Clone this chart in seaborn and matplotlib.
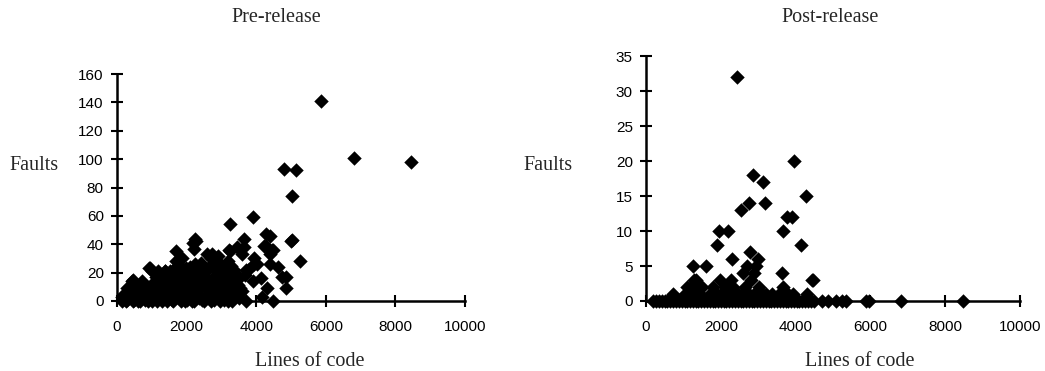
import matplotlib
matplotlib.use("Agg")
import matplotlib.pyplot as plt
import seaborn as sns
import pandas as pd

# ---------------- data ----------------
pre_loc = [5870, 6810, 8460, 4800, 5150, 5020, 5030, 5010, 5250, 4850, 4850,
           3900, 3250, 3650, 4280, 4400, 4270, 4470, 4400, 4400, 4640, 4140,
           4300, 4180, 4470, 3720, 3950, 4010, 3900, 3600, 3640, 3750, 3680,
           3590, 3250, 2910, 2720, 2220, 2270, 2240, 1700, 1015, 930, 440, 700,
           4224, 4445, 3218, 3440, 3945, 4750, 3534, 3698, 2578, 2193, 948,
           1188, 1379, 1523, 451, 710, 279, 517, 135,
           150, 200, 250, 300, 350, 400, 450, 500, 550, 600, 650, 700, 750,
           800, 850, 900, 950, 1000, 1050, 1100, 1150, 1200, 1250, 1300, 1350,
           1400, 1450, 1500, 1550, 1600, 1650, 1700, 1750, 1800, 1850, 1900,
           1950, 2000, 2050, 2100, 2150, 2200, 2250, 2300, 2350, 2400, 2450,
           2500, 2550, 2600, 2650, 2700, 2750, 2800, 2850, 2900, 2950, 3000,
           3050, 3100, 3150, 3200, 3250, 3300, 3350, 3400, 3450, 3500,
           180, 320, 480, 620, 780, 880, 1020, 1120, 1180, 1280, 1380, 1420,
           1520, 1580, 1620, 1680, 1720, 1780, 1820, 1880, 1920, 1980, 2020,
           2080, 2120, 2180, 2230, 2280, 2330, 2380, 2430, 2480, 2530, 2580,
           2630, 2680, 2720, 2780, 2830, 2880, 2920, 2980, 3020, 3080, 3120,
           3180, 3230, 3280, 3320, 3380, 3420, 3480, 3520,
           250, 600, 1000, 1300, 1600, 1950, 2150, 2500, 2700, 2950, 3200,
           1650, 1750, 1850, 2050, 2350, 2550, 2850, 3050, 3350]
pre_faults = [141, 101, 98, 93, 92, 74, 43, 42, 28, 17, 9,
              59, 54, 44, 47, 46, 39, 36, 33, 26, 24, 16,
              9, 3, 0, 0, 30, 26, 14, 33, 38, 22, 18,
              7, 35, 32, 33, 37, 42, 44, 35, 21, 23, 14, 13,
              39, 36, 36, 38, 26, 17, 9, 22, 33, 41, 23,
              21, 21, 21, 15, 14, 9, 8, 3,
              0, 2, 5, 1, 7, 3, 0, 8, 2, 5, 0, 3, 9,
              1, 6, 0, 4, 12, 2, 8, 0, 15, 5, 18, 2,
              10, 0, 14, 6, 22, 3, 28, 12, 25, 0, 20,
              8, 16, 4, 24, 11, 0, 19, 7, 14, 27, 2,
              18, 9, 22, 5, 30, 13, 1, 21, 10, 26, 16,
              3, 20, 8, 28, 12, 0, 22, 6, 15, 2,
              4, 3, 1, 9, 4, 2, 6, 17, 3, 10, 21, 4,
              9, 1, 17, 7, 19, 2, 13, 30, 5, 23, 1,
              14, 20, 6, 26, 3, 21, 10, 1, 24, 15, 4,
              12, 25, 7, 17, 4, 28, 19, 9, 24, 1, 13,
              5, 17, 25, 10, 3, 19, 11, 5,
              0, 0, 0, 0, 0, 0, 0, 0, 0, 0, 0,
              18, 8, 15, 11, 2, 12, 14, 7, 16]

post_loc = [2430, 3960, 2870, 3130, 4270, 2750, 3170, 2540, 3760, 3900, 3660,
            1960, 2200, 4140, 1890, 2780, 2310, 2990, 1250, 1600, 2700, 2930,
            3630, 2600, 2890, 4460, 4430, 1280, 1980, 2260, 2810, 1330, 3010,
            3650, 1800, 1500, 1090, 2330, 2650, 1200, 1400, 2100, 720, 4310,
            3940, 3370, 2000, 2580, 1150, 1250, 1350, 1700, 2200, 2450, 2900,
            3200, 3550, 3800, 1050, 1450, 1900, 2750, 3100,
            200, 280, 350, 420, 500, 560, 640, 720, 800, 880, 950, 1030, 1100,
            1180, 1250, 1330, 1400, 1480, 1550, 1630, 1700, 1780, 1850, 1930,
            2000, 2080, 2150, 2230, 2300, 2380, 2450, 2530, 2600, 2680, 2750,
            2830, 2900, 2980, 3050, 3130, 3200, 3280, 3350, 3430, 3500, 3580,
            3650, 3730, 3800, 3880, 3950, 4030, 4100, 4180, 4250, 4330, 4400,
            4480, 4700, 4860, 5080, 5230, 5360, 5880, 5950, 6820, 8480]
post_faults = [32, 20, 18, 17, 15, 14, 14, 13, 12, 12, 10,
               10, 10, 8, 8, 7, 6, 6, 5, 5, 5, 5,
               4, 4, 4, 3, 3, 3, 3, 3, 3, 3, 2,
               2, 2, 2, 2, 2, 2, 2, 2, 2, 1, 1,
               1, 1, 1, 1, 1, 1, 1, 1, 1, 1, 1,
               1, 1, 1, 1, 1, 1, 1, 1,
               0, 0, 0, 0, 0, 0, 0, 0, 0, 0, 0, 0, 0,
               0, 0, 0, 0, 0, 0, 0, 0, 0, 0, 0,
               0, 0, 0, 0, 0, 0, 0, 0, 0, 0, 0,
               0, 0, 0, 0, 0, 0, 0, 0, 0, 0, 0,
               0, 0, 0, 0, 0, 0, 0, 0, 0, 0, 0,
               0, 0, 0, 0, 0, 0, 0, 0, 0, 0]

x_ticks = [0, 2000, 4000, 6000, 8000, 10000]
pre_yticks = [0, 20, 40, 60, 80, 100, 120, 140, 160]
post_yticks = [0, 5, 10, 15, 20, 25, 30, 35]
titles = ["Pre-release", "Post-release"]
xlabel = "Lines of code"
ylabel = "Faults"

# ---------------- drawing ----------------
sns.set_theme(style="white")
plt.rcParams["font.family"] = ["Liberation Sans", "DejaVu Sans"]

fig = plt.figure(figsize=(10.45, 3.71), dpi=100)
W, H = 1045.0, 371.0
ax1 = fig.add_axes([117 / W, 1 - 301 / H, (465 - 117) / W, (301 - 74) / H])
ax2 = fig.add_axes([646 / W, 1 - 301 / H, (1020 - 646) / W, (301 - 56) / H])

pre_df = pd.DataFrame({"loc": pre_loc, "faults": pre_faults})
post_df = pd.DataFrame({"loc": post_loc, "faults": post_faults})

panels = [(ax1, pre_df, (0, 160), pre_yticks),
          (ax2, post_df, (0, 35), post_yticks)]
for ax, df, ylim, yt in panels:
    sns.scatterplot(data=df, x="loc", y="faults", ax=ax, marker="D",
                    color="black", s=54, linewidth=0, clip_on=False, zorder=3)
    ax.set_xlim(0, 10000)
    ax.set_ylim(*ylim)
    ax.set_xticks(x_ticks)
    ax.set_yticks(yt)
    ax.set_xlabel("")
    ax.set_ylabel("")
    for s in ["top", "right"]:
        ax.spines[s].set_visible(False)
    for s in ["left", "bottom"]:
        ax.spines[s].set_visible(True)
        ax.spines[s].set_color("black")
        ax.spines[s].set_linewidth(1.8)
    ax.tick_params(axis="both", direction="inout", length=9, width=1.5,
                   color="black", labelsize=11, labelcolor="black",
                   left=True, bottom=True)
    ax.tick_params(axis="x", pad=9)
    ax.tick_params(axis="y", pad=5)
    ax.set_facecolor("white")

serif = ["Liberation Serif", "DejaVu Serif"]
fig.text(276 / W, 1 - 18 / H, titles[0], ha="center", va="center",
         fontsize=14.5, family=serif)
fig.text(830 / W, 1 - 18 / H, titles[1], ha="center", va="center",
         fontsize=14.5, family=serif)
fig.text(34 / W, 1 - 165 / H, ylabel, ha="center", va="center",
         fontsize=14.5, family=serif)
fig.text(548 / W, 1 - 165 / H, ylabel, ha="center", va="center",
         fontsize=14.5, family=serif)
fig.text(310 / W, 1 - 361 / H, xlabel, ha="center", va="center",
         fontsize=14.5, family=serif)
fig.text(860 / W, 1 - 361 / H, xlabel, ha="center", va="center",
         fontsize=14.5, family=serif)

fig.savefig("out.png", dpi=100, facecolor="white")
